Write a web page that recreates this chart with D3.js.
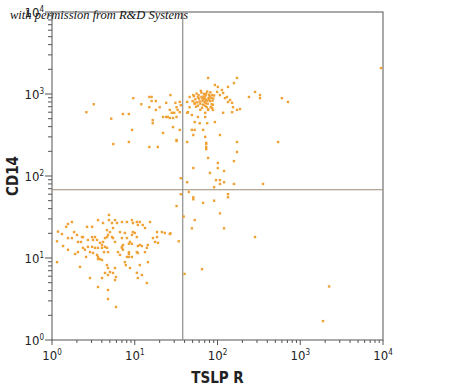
<!DOCTYPE html>
<html>
<head>
<meta charset="utf-8">
<script src="https://cdn.jsdelivr.net/npm/d3@7/dist/d3.min.js"></script>
<style>
  body { margin: 0; background: #ffffff; }
  svg { display: block; }
</style>
</head>
<body>
<div id="chart"></div>
<script>
// tick labels (exponents of 10) on both axes
var decades = [0, 1, 2, 3, 4];
var xTitle = "TSLP R";
var yTitle = "CD14";
var credit = "with permission from R&D Systems";

// quadrant gate positions
var gateX = 38;
var gateY = 68;

// events: [TSLP R, CD14]
var upperLeft = [
  [2.6,600],[3.2,750],[5.2,500],[5.5,245],[7.2,570],[8.5,570],[9.3,365],[8.5,260],[9.6,890],
  [12,750],[15,920],[16,920],[16,820],[18,820],[15,690],[18,640],[20,690],[16.5,480],[16.5,440],
  [15,226],[19,226],[22,335],[24,525],[27,970],[24,780],[26.5,640],[28,590],[29,395],[32,275],
  [35,365],[31,780],[32,690],[33,640],[30,590],[32,525],[35,600],[36,730],[35,800],[25,525],
  [29,510],[26.5,510],[22,525],[32,267],[36,94],[36,60],[32,43]
];
var upperRight = [
  [43,800],[46,920],[51,970],[53,780],[46,690],[44,600],[49,555],[43,590],[77,1570],[172,1570],
  [158,1360],[134,1220],[93,1290],[101,1220],[113,1120],[117,1030],[130,920],[142,845],[150,780],
  [134,800],[123,890],[107,970],[99,1060],[154,690],[172,640],[187,655],[150,600],[284,1060],
  [326,970],[326,890],[240,920],[540,260],[172,260],[107,316],[93,455],[71,525],[75,440],[71,590],
  [58,525],[61,440],[53,455],[49,365],[53,365],[51,316],[67,365],[71,300],[73,253],[73,226],
  [43,260],[77,640],[86,675],[88,640],[117,590],[9460,2070],[600,890],[710,800],
  [73,246],[73,213],[172,196],[77,166],[158,152],[51,125],[101,144],[101,125],[81,109],[120,115]
];
// the bright core of the monocyte population
var core = [
  [52,940],[56,1010],[54,860],[59,965],[61,810],[63,1090],[66,880],[64,1040],[67,740],[68,930],
  [70,800],[72,960],[73,850],[69,1000],[74,690],[78,890],[76,760],[79,980],[81,820],[84,900],
  [82,1050],[85,750],[87,830],[89,880],[91,960],[58,720],[57,790],[62,760],[75,1070],[71,720],
  [53,760],[60,880],[80,940],[50,820],[88,740],[65,680],[62,640],[77,650],[83,690],[55,700],
  [66,820],[70,900],[75,830],[72,780],[68,860],[79,860],[64,920],[73,1010],[86,970],[58,910]
];
var lowerRight = [
  [43,84],[96,89],[107,89],[120,84],[107,80],[91,73],[158,80],[355,80],[45,64],[51,55],[51,52],
  [134,60],[134,55],[67,47],[91,50],[107,35],[39,32],[53,29],[49,23],[120,23],[284,18],
  [65,7.3],[40,6.4],[2230,4.5],[1880,1.7]
];
var lowerLeft = [
  [27,20],[34,16],
  [1.15,16],[1.15,8.9],[1.18,21],[1.32,19.6],[1.36,14],[1.48,24],[1.56,26],[1.74,27.5],[1.56,17.5],
  [1.74,17.5],[1.56,12.6],[1.85,20.7],[2.0,19.1],[2.06,15.7],[2.24,15.7],[1.9,11.2],[2.06,11.8],
  [2.18,7.8],[2.3,18],[2.37,18],[2.37,13.3],[2.5,12.6],[2.72,13.7],[2.58,10.3],[2.65,24],[2.72,16.6],
  [3.05,18],[3.13,16.6],[3.31,18],[3.5,16.6],[3.05,24],[3.6,29],[3.05,13.7],[3.31,13.3],[3.6,13.3],
  [2.88,11.8],[3.13,11.5],[3.6,9.7],[3.8,9.7],[4.02,9.45],[3.5,10.9],[3.6,10.3],[3.8,15.3],
  [4.02,14.4],[4.14,15.7],[4.37,17.5],[4.62,18],[4.75,19.1],[4.02,13.3],[4.37,13.7],[4.25,11.8],
  [4.62,13.3],[4.88,33.5],[4.88,29],[4.14,26.7],[5.31,26.7],[5.77,29],[6.1,26.7],[4.62,21.9],
  [5.02,20.7],[5.46,23.2],[5.31,18],[5.46,17.5],[5.77,15.7],[4.62,8.2],[4.75,7.55],[5.02,6.75],
  [4.37,6.57],[4.75,6.2],[5.77,7.55],[5.46,6.57],[5.93,5.87],[5.77,5.39],[2.88,5.7],[3.6,4.43],
  [4.75,4.07],[4.75,3.16],[5.93,2.53],[4.02,5.7],[6.63,20.7],[7.0,17.5],[7.0,13.7],[6.27,11.8],
  [6.63,10.9],[4.75,11.8],[7.0,27.5],[8.05,27.5],[9.25,29],[9.5,26.7],[10.6,27.5],[10.9,25.3],
  [11.5,27.5],[12.5,25.3],[13.3,23.2],[9.5,20.7],[10,20.2],[9.25,19.1],[10.6,18],[7.6,20.2],
  [8.05,17.5],[8.75,15.7],[8.5,14.9],[9.25,14.9],[11.5,14.4],[10.9,14],[12.2,14],[7.2,14.4],
  [7.0,13.3],[7.2,12.6],[8.5,11.8],[8.5,11.2],[8.5,10.3],[8.05,10.3],[9.25,10.3],[10.6,11.8],
  [10.9,11.5],[13.3,11.8],[14,13.3],[14.4,14.4],[15.3,27.5],[16.6,17.5],[18.6,18],[17.6,15.7],
  [19.1,15.3],[18.6,20.7],[21.3,20.7],[23.1,20.2],[26.5,19.6],[7.6,8.9],[7.8,8.2],[8.75,7.55],
  [11.5,8.2],[14.4,8.9],[10.6,6.6],[10.9,5.7],[12.2,6.2],[14,4.95]
];

var events = upperLeft.concat(upperRight, core, lowerRight, lowerLeft);

var W = 450, H = 391;
// plot box (note: "top" is a reserved window global, so prefixed names)
var plotLeft = 52, plotRight = 383, plotTop = 12, plotBottom = 340;
var labelFont = "'Liberation Sans Narrow', 'DejaVu Sans Condensed', 'Arial Narrow', sans-serif";

var svg = d3.select("#chart").append("svg")
  .attr("width", W)
  .attr("height", H);

var x = d3.scaleLog().domain([1, 1e4]).range([plotLeft, plotRight]);
var y = d3.scaleLog().domain([1, 1e4]).range([plotBottom, plotTop]);

// major + minor ticks for a log axis
var ticks = [];
decades.forEach(function(d) {
  for (var m = 1; m <= 9; m++) {
    if (d == 4 && m > 1) break;
    ticks.push({ v: m * Math.pow(10, d), major: m == 1 });
  }
});

// frame
svg.append("rect")
  .attr("x", plotLeft).attr("y", plotTop)
  .attr("width", plotRight - plotLeft).attr("height", plotBottom - plotTop)
  .attr("fill", "none")
  .attr("stroke", "#555")
  .attr("stroke-width", 1);

// gates
svg.append("line")
  .attr("x1", x(gateX)).attr("x2", x(gateX))
  .attr("y1", plotTop).attr("y2", plotBottom)
  .attr("stroke", "#8d8d8d").attr("stroke-width", 1.2);
svg.append("line")
  .attr("x1", plotLeft).attr("x2", plotRight)
  .attr("y1", y(gateY)).attr("y2", y(gateY))
  .attr("stroke", "#9c8a78").attr("stroke-width", 1.2);

// dots
svg.append("g").selectAll("rect")
  .data(events)
  .enter().append("rect")
    .attr("x", function(d) { return x(d[0]) - 1.2; })
    .attr("y", function(d) { return y(d[1]) - 1.2; })
    .attr("width", 2.4)
    .attr("height", 2.4)
    .attr("fill", "#f0a136");

// x axis ticks
svg.append("g").selectAll("line")
  .data(ticks)
  .enter().append("line")
    .attr("x1", function(d) { return x(d.v); })
    .attr("x2", function(d) { return x(d.v); })
    .attr("y1", plotBottom)
    .attr("y2", function(d) { return plotBottom + (d.major ? 5 : 3); })
    .attr("stroke", "#555");

// y axis ticks
svg.append("g").selectAll("line")
  .data(ticks)
  .enter().append("line")
    .attr("y1", function(d) { return y(d.v); })
    .attr("y2", function(d) { return y(d.v); })
    .attr("x1", plotLeft)
    .attr("x2", function(d) { return plotLeft - (d.major ? 7 : 4); })
    .attr("stroke", "#555");

// tick labels  10^n
var xl = svg.append("g").selectAll("text")
  .data(decades)
  .enter().append("text")
    .attr("x", function(d) { return x(Math.pow(10, d)); })
    .attr("y", 360)
    .attr("text-anchor", "middle")
    .style("font-family", labelFont)
    .style("font-size", "13px")
    .attr("fill", "#222");
xl.append("tspan").text("10");
xl.append("tspan").attr("dy", -5).style("font-size", "8px").text(function(d) { return d; });

var yl = svg.append("g").selectAll("text")
  .data(decades)
  .enter().append("text")
    .attr("x", 44)
    .attr("y", function(d) { return y(Math.pow(10, d)) + 5; })
    .attr("text-anchor", "end")
    .style("font-family", labelFont)
    .style("font-size", "13px")
    .attr("fill", "#222");
yl.append("tspan").text("10");
yl.append("tspan").attr("dy", -5).style("font-size", "8px").text(function(d) { return d; });

// axis titles
svg.append("text")
  .attr("x", (plotLeft + plotRight) / 2)
  .attr("y", 383)
  .attr("text-anchor", "middle")
  .style("font-family", labelFont)
  .style("font-weight", "bold")
  .style("font-size", "15px")
  .attr("fill", "#222")
  .text(xTitle);

svg.append("text")
  .attr("transform", "translate(18," + ((plotTop + plotBottom) / 2) + ") rotate(-90)")
  .attr("text-anchor", "middle")
  .style("font-family", labelFont)
  .style("font-weight", "bold")
  .style("font-size", "15px")
  .attr("fill", "#222")
  .text(yTitle);

// credit line over the top left corner
svg.append("text")
  .attr("x", 10)
  .attr("y", 19)
  .style("font-family", "'Liberation Serif', 'DejaVu Serif', serif")
  .style("font-style", "italic")
  .style("font-size", "12.5px")
  .attr("fill", "#111")
  .text(credit);
</script>
</body>
</html>
